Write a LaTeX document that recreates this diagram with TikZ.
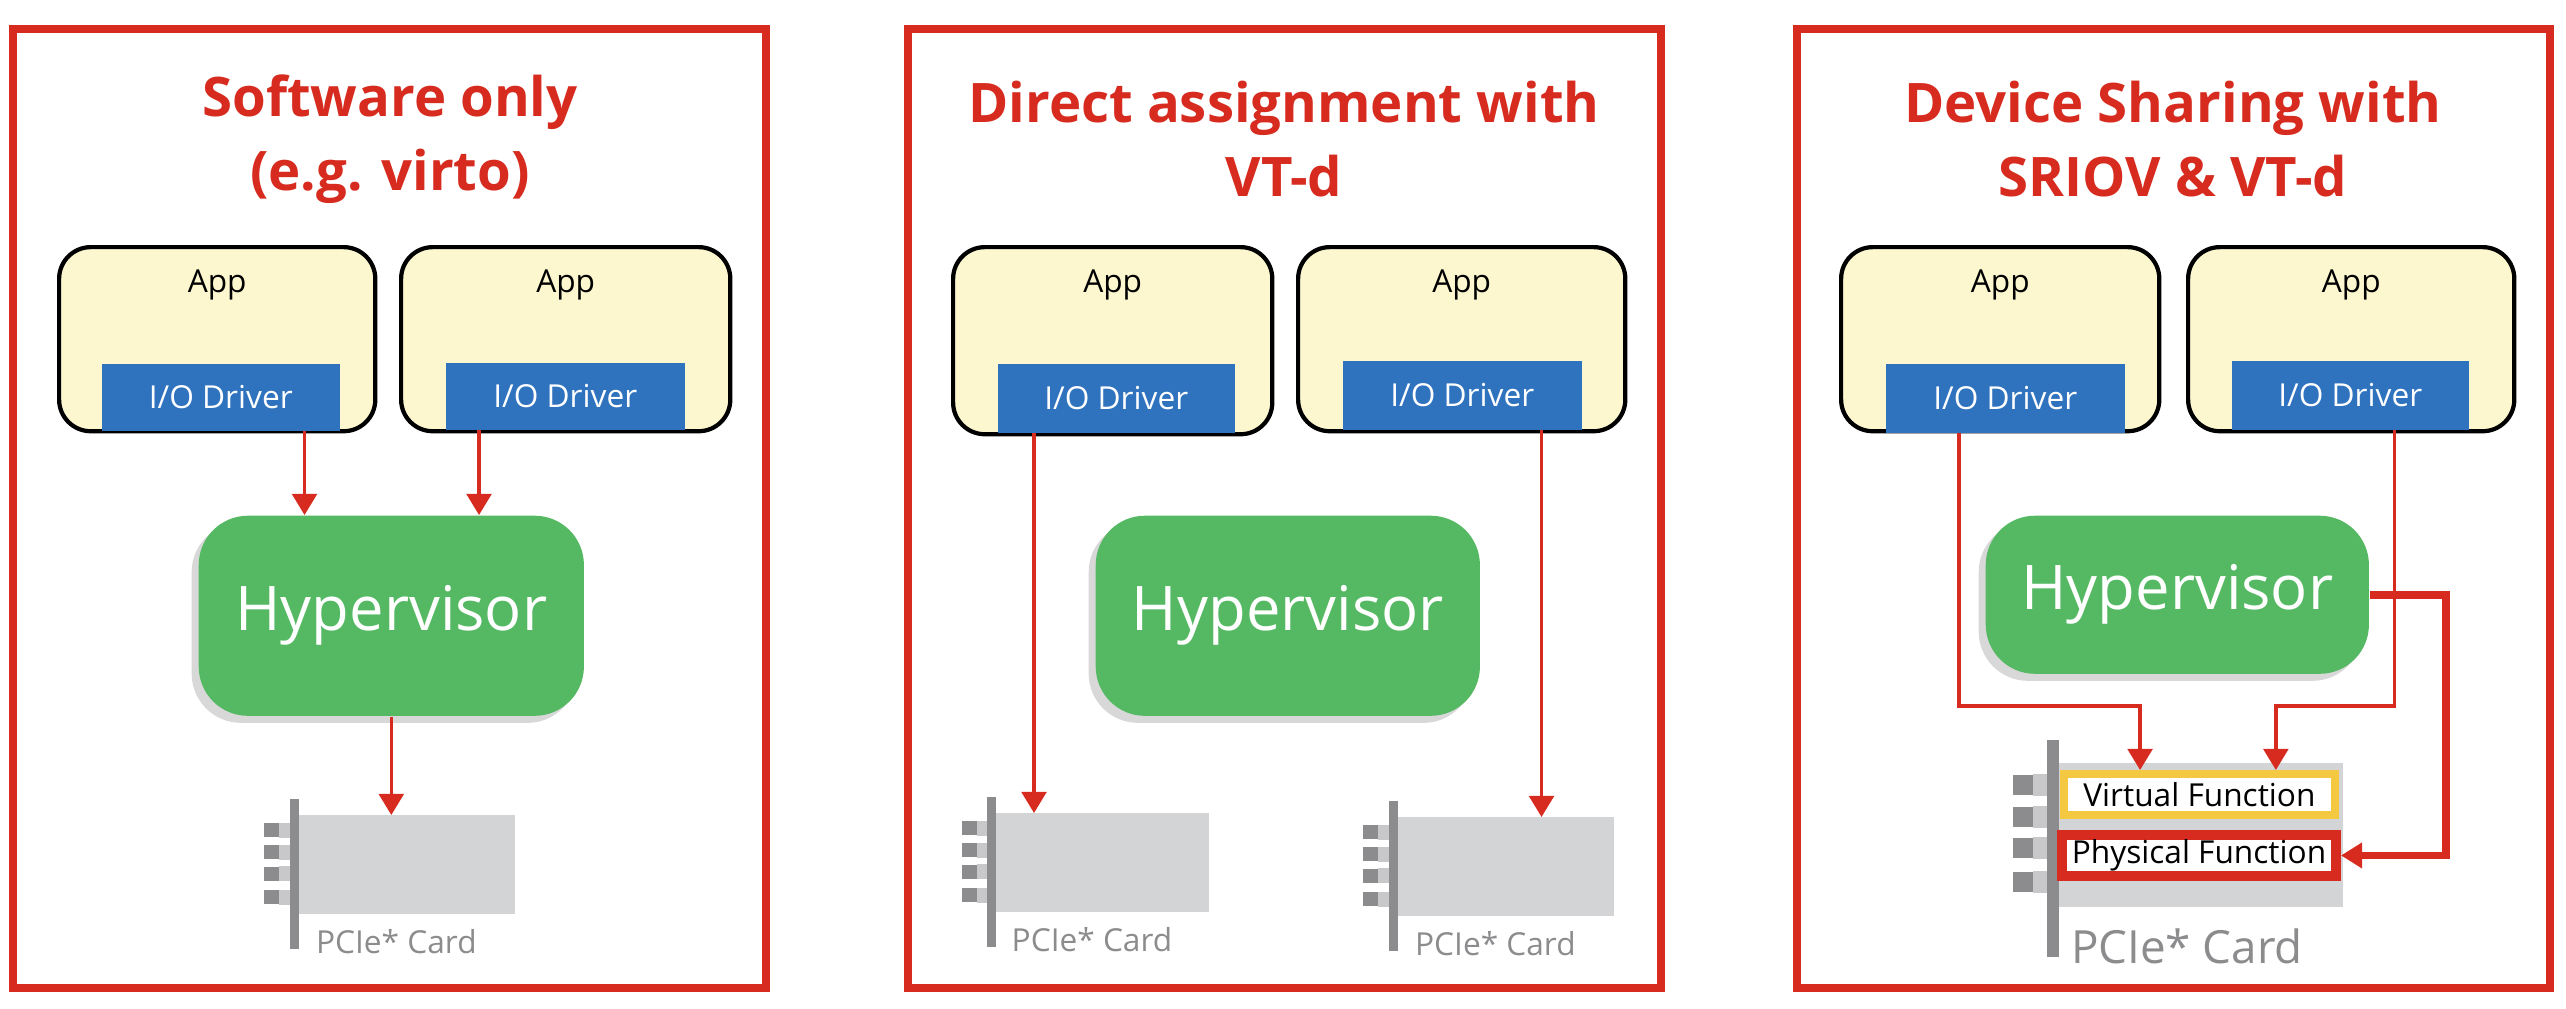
\documentclass[tikz,border=0pt]{standalone}
\usepackage{fontspec}
\setmainfont{Open Sans}
\usetikzlibrary{arrows.meta,shadows,positioning}
\definecolor{vred}{RGB}{214,43,30}
\definecolor{appbg}{RGB}{253,247,208}
\definecolor{drvblue}{RGB}{47,114,190}
\definecolor{hvgreen}{RGB}{85,185,99}
\definecolor{cardgray}{RGB}{211,212,214}
\definecolor{bargray}{RGB}{140,140,142}
\definecolor{conlight}{RGB}{200,200,202}
\definecolor{vfyellow}{RGB}{245,200,66}

% card: name, x, y (body top), xscale, yscale, label font
\newcommand\pcard[6]{%
\begin{scope}[shift={(#2,#3)},xscale=#4,yscale=#5]
\coordinate (#1) at (0,0);
\fill[cardgray] (12,0) rectangle (296,144);
\foreach \cy in {22,54,85,119} {
  \fill[conlight] (-14,\cy-11) rectangle (0,\cy+11);
  \fill[bargray] (-34,\cy-10) rectangle (-14,\cy+10);
}
\fill[bargray] (0,-23) rectangle (12,194);
\node[text=bargray,font=#6] (#1-lbl) at (140,183) {PCIe* Card};
\end{scope}}

\begin{document}
\begin{tikzpicture}[x=0.01cm,y=-0.01cm]
\tikzstyle{panel}=[draw=vred, line width=2.4pt, fill=white]
\tikzstyle{title}=[text=vred, font=\fontsize{15.5}{21}\selectfont\bfseries, align=center]
\tikzstyle{app}=[draw=black, line width=1.2pt, fill=appbg, rounded corners=9pt, anchor=north west]
\tikzstyle{drv}=[fill=drvblue, text=white, font=\fontsize{9}{11}\selectfont, anchor=north west, inner sep=0pt]
\tikzstyle{hyp}=[fill=hvgreen, text=white, rounded corners=14pt, font=\fontsize{17.5}{21}\selectfont,
	anchor=north west, inner sep=0pt, drop shadow={opacity=0.3,shadow xshift=-2pt,shadow yshift=-2pt}]
\tikzstyle{arr}=[draw=vred, line width=1pt, -{Triangle[length=6pt,width=7pt]}]
\tikzstyle{fbox}=[fill=white, font=\fontsize{9}{11}\selectfont, anchor=north west, inner sep=0pt]

\useasboundingbox (0,0) rectangle (2566,1008);

% panels
\draw[panel] (13,29) rectangle (766,988);
\draw[panel] (908,29) rectangle (1661,988);
\draw[panel] (1797,29) rectangle (2550,988);

\node[title] (t1) at (390,139) {Software only\\(e.g. virto)};
\node[title] (t2) at (1284,139) {Direct assignment with\\VT-d};
\node[title] (t3) at (2173,139) {Device Sharing with\\SRIOV \& VT-d};

% apps and drivers
\node[app, minimum width=3.16cm, minimum height=1.84cm] (a1) at (57,245) {};
\node[app, minimum width=3.29cm, minimum height=1.84cm] (a2) at (399,245) {};
\node[app, minimum width=3.19cm, minimum height=1.87cm] (a3) at (951,245) {};
\node[app, minimum width=3.27cm, minimum height=1.84cm] (a4) at (1296,245) {};
\node[app, minimum width=3.18cm, minimum height=1.84cm] (a5) at (1839,245) {};
\node[app, minimum width=3.26cm, minimum height=1.84cm] (a6) at (2186,245) {};
\foreach \n in {1,...,6} {
  \node[font=\fontsize{9}{11}\selectfont, below=0.12cm of a\n.north] (al\n) {App};
}
\node[drv, minimum width=2.38cm, minimum height=0.67cm] (d1) at (101,363) {I/O Driver};
\node[drv, minimum width=2.39cm, minimum height=0.67cm] (d2) at (445,362) {I/O Driver};
\node[drv, minimum width=2.37cm, minimum height=0.69cm] (d3) at (997,363) {I/O Driver};
\node[drv, minimum width=2.39cm, minimum height=0.69cm] (d4) at (1342,360) {I/O Driver};
\node[drv, minimum width=2.39cm, minimum height=0.69cm] (d5) at (1885,363) {I/O Driver};
\node[drv, minimum width=2.37cm, minimum height=0.69cm] (d6) at (2231,360) {I/O Driver};

% hypervisors
\node[hyp, minimum width=3.85cm, minimum height=2.0cm] (h1) at (198,515) {Hypervisor};
\node[hyp, minimum width=3.84cm, minimum height=2.0cm] (h2) at (1095,515) {Hypervisor};
\node[hyp, minimum width=3.83cm, minimum height=1.58cm] (h3) at (1985,515) {Hypervisor};

% cards
\pcard{c1}{290}{815}{0.76}{0.69}{\fontsize{9}{11}\selectfont}
\pcard{c2}{987}{813}{0.75}{0.69}{\fontsize{9}{11}\selectfont}
\pcard{c3}{1389}{817}{0.76}{0.69}{\fontsize{9}{11}\selectfont}
\pcard{c4}{2047}{763}{1}{1}{\fontsize{13}{15}\selectfont}

\node[fbox, draw=vfyellow, line width=2.2pt, minimum width=2.71cm, minimum height=0.41cm] (vf) at (2060,770) {Virtual Function};
\node[fbox, draw=vred, line width=2.8pt, minimum width=2.74cm, minimum height=0.41cm] (pf) at (2057,830) {Physical Function};

% connectors
\draw[arr] ([xshift=-0.36cm]d1.south east) -- ([xshift=-0.36cm]d1.south east |- h1.north);
\draw[arr] ([xshift=0.34cm]d2.south west) -- ([xshift=0.34cm]d2.south west |- h1.north);
\draw[arr] (h1.south) -- (h1.south |- c1);
\draw[arr] ([xshift=0.37cm]d3.south west) -- ([xshift=0.37cm]d3.south west |- c2);
\draw[arr] ([xshift=-0.41cm]d4.south east) -- ([xshift=-0.41cm]d4.south east |- c3);
\draw[arr] ([xshift=0.74cm]d5.south west) |- ([xshift=0.80cm,yshift=0.64cm]vf.north west) -- ([xshift=0.80cm]vf.north west);
\draw[arr] ([xshift=-0.75cm]d6.south east) |- ([xshift=-0.63cm,yshift=0.64cm]vf.north east) -- ([xshift=-0.63cm]vf.north east);
\draw[arr, line width=2.2pt] (h3.east) -| ([xshift=1.05cm]pf.east) -- (pf.east);

\end{tikzpicture}
\end{document}
